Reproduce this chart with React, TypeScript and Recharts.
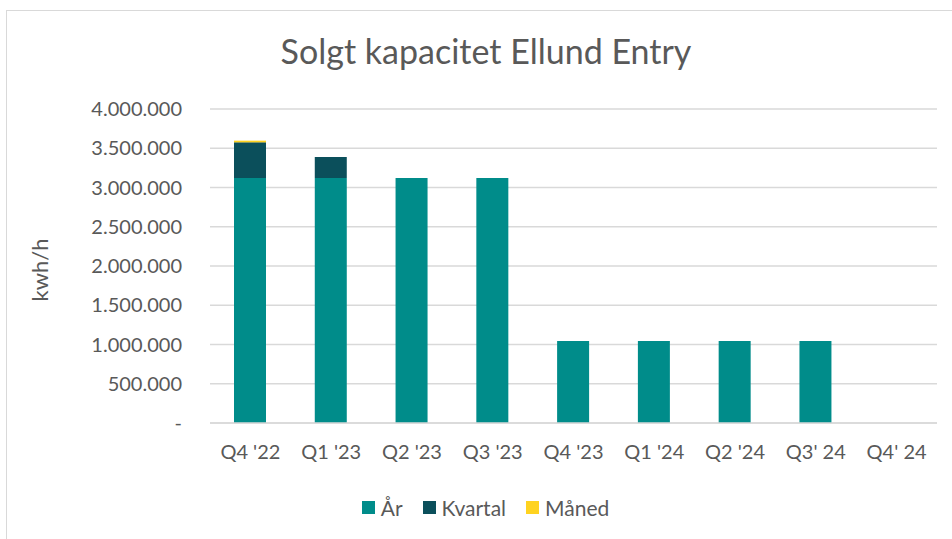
import React from 'react';
import { BarChart, Bar, XAxis, YAxis, CartesianGrid, Legend, Label } from 'recharts';

const categories = ["Q4 '22", "Q1 '23", "Q2 '23", "Q3 '23", "Q4 '23", "Q1 '24", "Q2 '24", "Q3' 24", "Q4' 24"];
const aar = [3120000, 3120000, 3120000, 3120000, 1045000, 1045000, 1045000, 1045000, 0];
const kvartal = [455000, 270000, 0, 0, 0, 0, 0, 0, 0];
const maaned = [22000, 0, 0, 0, 0, 0, 0, 0, 0];
const yTicks = [0, 500000, 1000000, 1500000, 2000000, 2500000, 3000000, 3500000, 4000000];

const data = categories.map((c, i) => ({ name: c, aar: aar[i], kvartal: kvartal[i], maaned: maaned[i] }));

const FONT = 'Lato, "Open Sans", sans-serif';
const TXT = '#595959';
const colors = { aar: '#008C8A', kvartal: '#0B4F5B', maaned: '#FFD320' };

const fmt = (v: number) => (v === 0 ? '-' : v.toString().replace(/\B(?=(\d{3})+(?!\d))/g, '.'));

const YTick = (props: any) => {
  const { x, y, payload } = props;
  return (
    <text x={x} y={y} dy={7} textAnchor="end" fill={TXT} fontSize={20} fontFamily={FONT}>
      {fmt(payload.value)}
    </text>
  );
};

const XTick = (props: any) => {
  const { x, y, payload } = props;
  return (
    <text x={x} y={y} dy={28} textAnchor="middle" fill={TXT} fontSize={20} fontFamily={FONT}>
      {payload.value}
    </text>
  );
};

const LegendContent = () => {
  const items = [
    { label: 'År', color: colors.aar },
    { label: 'Kvartal', color: colors.kvartal },
    { label: 'Måned', color: colors.maaned },
  ];
  return (
    <div style={{ display: 'flex', justifyContent: 'center', fontFamily: FONT, fontSize: 21, color: TXT, height: 26, alignItems: 'center', paddingLeft: 34 }}>
      {items.map((it) => (
        <div key={it.label} style={{ display: 'flex', alignItems: 'center', margin: '0 10px' }}>
          <span style={{ display: 'inline-block', width: 13, height: 13, background: it.color, marginRight: 6 }} />
          <span>{it.label}</span>
        </div>
      ))}
    </div>
  );
};

export default function App() {
  return (
    <div style={{ position: 'absolute', left: 0, top: 0, width: 952, height: 539, background: '#fff', overflow: 'hidden' }}>
      <div style={{ position: 'absolute', left: 6, top: 10, width: 1000, height: 600, border: '1px solid #d9d9d9', boxSizing: 'border-box' }} />
      <div style={{ position: 'absolute', left: 0, top: 30, width: 972, textAlign: 'center', fontFamily: FONT, fontSize: 34, color: TXT }}>
        Solgt kapacitet Ellund Entry
      </div>
      <div style={{ position: 'absolute', left: 0, top: 0 }}>
        <BarChart width={952} height={539} data={data} margin={{ top: 109, right: 15, bottom: 60, left: 0 }} barSize={32}>
          <CartesianGrid vertical={false} stroke="#d9d9d9" strokeWidth={1.3} />
          <XAxis dataKey="name" height={30} axisLine={{ stroke: '#d9d9d9', strokeWidth: 1.3 }} tickLine={false} tick={<XTick />} interval={0} />
          <YAxis
            width={210}
            domain={[0, 4000000]}
            ticks={yTicks}
            axisLine={false}
            tickLine={false}
            tickSize={0}
            tickMargin={28}
            tick={<YTick />}
            interval={0}
          >
            <Label
              value="kwh/h"
              angle={-90}
              position="insideLeft"
              offset={40}
              dy={4}
              style={{ fill: TXT, fontSize: 22, fontFamily: FONT, textAnchor: 'middle' }}
            />
          </YAxis>
          <Legend verticalAlign="bottom" content={<LegendContent />} wrapperStyle={{ bottom: 19, left: 0, width: 937 }} />
          <Bar dataKey="aar" stackId="a" fill={colors.aar} isAnimationActive={false} />
          <Bar dataKey="kvartal" stackId="a" fill={colors.kvartal} isAnimationActive={false} />
          <Bar dataKey="maaned" stackId="a" fill={colors.maaned} isAnimationActive={false} />
        </BarChart>
      </div>
    </div>
  );
}
